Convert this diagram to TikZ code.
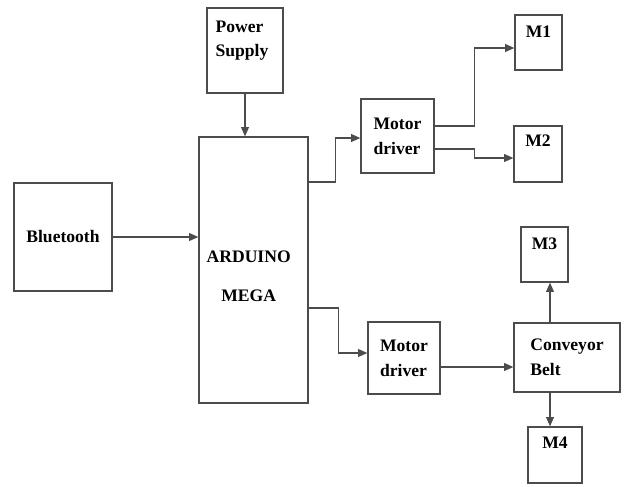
\documentclass[tikz,border=0pt]{standalone}
\usepackage{fontspec}
\setmainfont{Liberation Serif}
\usetikzlibrary{arrows.meta, positioning, calc}

\begin{document}
\begin{tikzpicture}[
			x=0.025cm, y=-0.025cm,
			block/.style={rectangle, draw=black!70, line width=0.9pt, align=left,
				inner sep=0pt, font=\fontsize{12.5}{18}\selectfont\bfseries},
			size/.style 2 args={minimum width=#1*0.025cm, minimum height=#2*0.025cm},
			tag/.style={inner sep=0pt, align=left, font=\fontsize{12.5}{17}\selectfont\bfseries},
			arrow/.style={-{Triangle[length=6.5pt, width=5.5pt]}, draw=black!70, line width=0.9pt}
			]
			\useasboundingbox (0,0) rectangle (628,486);
			\node[block, size={76}{85},
				label={[tag, anchor=north west, xshift=0.225cm, yshift=-0.325cm]north west:Power\\Supply}] (power) at (245,50.5) {};
			\node[block, size={109}{266},
				label={[tag, align=center, anchor=north, xshift=-0.12cm, yshift=-2.85cm]north:ARDUINO\\[11pt]MEGA}] (ard) at (253.5,270) {};
			\node[block, size={98}{108}] (bt) at (63,237) {Bluetooth};
			\node[block, size={73}{74}] (md1) at (397.5,136) {Motor\\driver};
			\node[block, size={72}{72}] (md2) at (404,358) {Motor\\driver};
			\node[block, size={106}{69}] (cb) at (567,357.5) {Conveyor\\Belt};
			\node[block, size={47}{55}, label={[tag, anchor=north, yshift=-0.28cm]north:M1}] (m1) at (538.5,42.5) {};
			\node[block, size={48}{56}, label={[tag, anchor=north, yshift=-0.24cm]north:M2}] (m2) at (538,154) {};
			\node[block, size={47}{55}, label={[tag, anchor=north, yshift=-0.27cm]north:M3}] (m3) at (544.5,254.5) {};
			\node[block, size={54}{56}, label={[tag, anchor=north, yshift=-0.25cm]north:M4}] (m4) at (555,455) {};
			\coordinate (belt) at (550,357.5);

			\draw[arrow] (power) -- (power |- ard.north);
			\draw[arrow] (bt) -- (bt -| ard.west);
			\draw[arrow] ([yshift=2.2cm]ard.east) -- ++(27,0) |- ([yshift=-0.05cm]md1.west);
			\draw[arrow] ([yshift=0.25cm]md1.east) -- ++(40,0) |- ([yshift=-0.1375cm]m1.west);
			\draw[arrow] ([yshift=-0.325cm]md1.east) -- ++(40,0) |- ([yshift=-0.1cm]m2.west);
			\draw[arrow] ([yshift=-0.95cm]ard.east) -- ++(30,0) |- ([yshift=0.125cm]md2.west);
			\draw[arrow] ([yshift=-0.225cm]md2.east) -- ([yshift=-0.225cm]md2.east -| cb.west);
			\draw[arrow] (belt |- cb.north) -- (belt |- m3.south);
			\draw[arrow] (belt |- cb.south) -- (belt |- m4.north);
		\end{tikzpicture}
\end{document}
